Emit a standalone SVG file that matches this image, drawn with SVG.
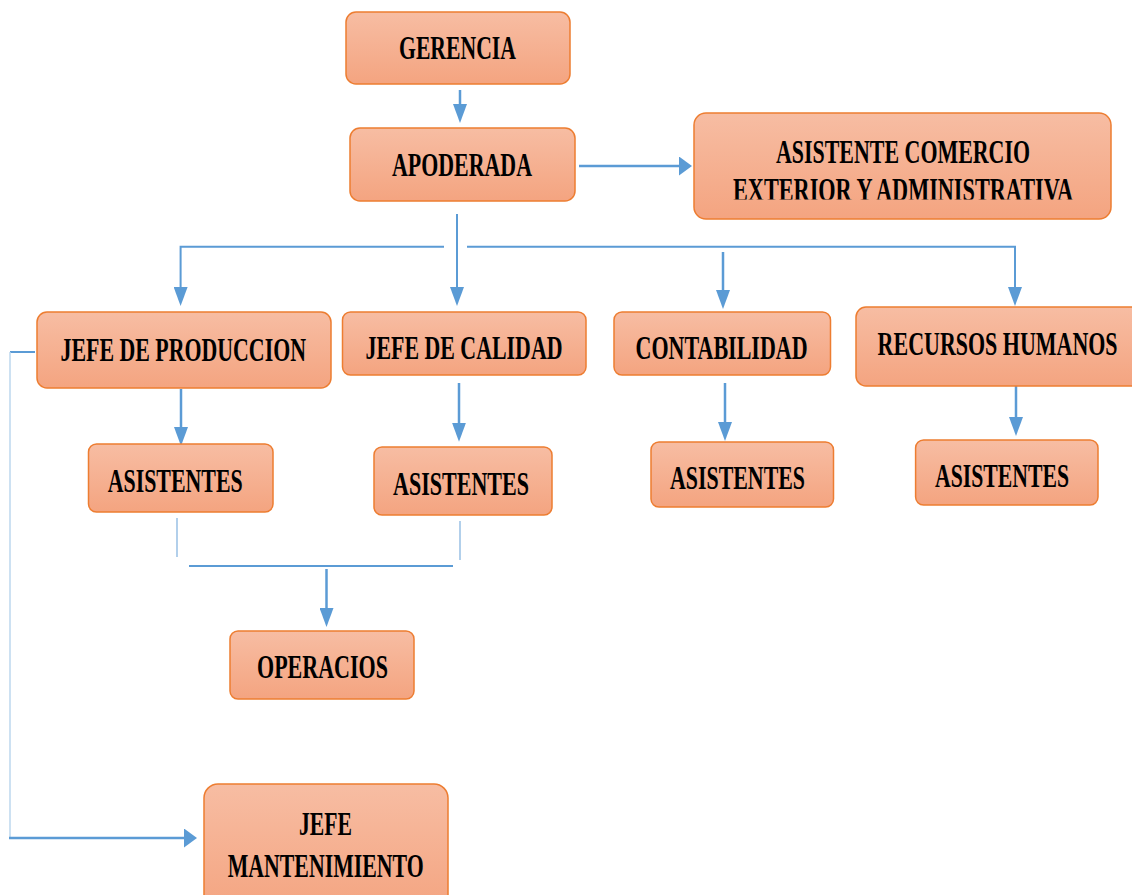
<svg xmlns="http://www.w3.org/2000/svg" width="1132" height="895" viewBox="0 0 1132 895">
<style>
.box{fill:url(#g);stroke:#ED7D31;stroke-width:1.5}
.t{font-family:"Liberation Serif","Times New Roman",serif;font-weight:bold;font-size:34px;fill:#000}
.c{fill:none;stroke:#5B9BD5;stroke-width:2.5}
.m{fill:none;stroke:#5B9BD5;stroke-width:2}
.th{fill:none;stroke:#7FB0DE;stroke-width:1.2}
.lt{fill:none;stroke:#BDD7EE;stroke-width:1.5}
</style>
<defs>
<linearGradient id="g" x1="0" y1="0" x2="0" y2="1">
<stop offset="0" stop-color="#F7BDA3"/>
<stop offset="1" stop-color="#F4A480"/>
</linearGradient>
<marker id="av" markerUnits="userSpaceOnUse" markerWidth="19" markerHeight="14" refX="9" refY="7" orient="auto" viewBox="0 0 19 14">
<path d="M0,0 L19,7 L0,14 z" fill="#5B9BD5"/>
</marker>
<marker id="ah" markerUnits="userSpaceOnUse" markerWidth="13" markerHeight="19" refX="4" refY="9.5" orient="auto" viewBox="0 0 13 19">
<path d="M0,0 L13,9.5 L0,19 z" fill="#5B9BD5"/>
</marker>
<clipPath id="clipA"><rect x="694" y="113" width="417" height="86.5"/></clipPath>
</defs>

<g id="connectors">
<path class="c" d="M460,90 V113" marker-end="url(#av)"/>
<path class="c" d="M579,166 H683" marker-end="url(#ah)"/>
<path class="m" d="M457,214 V296" marker-end="url(#av)"/>
<path class="m" d="M444,246.7 H180.6 V296" marker-end="url(#av)"/>
<path class="m" d="M467,246.7 H1015 V296" marker-end="url(#av)"/>
<path class="c" d="M723,252 V299" marker-end="url(#av)"/>
<path class="m" d="M35,352 H10"/>
<path class="lt" d="M10,352 V838"/>
<path class="c" d="M9,838 H188" marker-end="url(#ah)"/>
<path class="c" d="M181,389 V436" marker-end="url(#av)"/>
<path class="c" d="M459,383 V431.7" marker-end="url(#av)"/>
<path class="c" d="M725,383 V431" marker-end="url(#av)"/>
<path class="c" d="M1016,377 V426" marker-end="url(#av)"/>
<path class="th" d="M177,518 V557"/>
<path class="th" d="M460,521 V560"/>
<path class="m" d="M189,566 H453"/>
<path class="c" d="M326.5,569 V617" marker-end="url(#av)"/>
</g>

<g id="gerencia">
<rect class="box" x="346" y="12" width="224" height="72" rx="10"/>
<text class="t" x="399" y="59" textLength="117" lengthAdjust="spacingAndGlyphs">GERENCIA</text>
</g>
<g id="apoderada">
<rect class="box" x="350" y="128" width="225" height="73" rx="10"/>
<text class="t" x="392" y="176" textLength="140" lengthAdjust="spacingAndGlyphs">APODERADA</text>
</g>
<g id="asistente-comercio">
<rect class="box" x="694" y="113" width="417" height="106" rx="12"/>
<text class="t" x="776" y="163" textLength="254" lengthAdjust="spacingAndGlyphs">ASISTENTE COMERCIO</text>
<text class="t" x="733" y="201" textLength="340" lengthAdjust="spacingAndGlyphs" clip-path="url(#clipA)">EXTERIOR Y ADMINISTRATIVA</text>
</g>
<g id="jefe-produccion">
<rect class="box" x="37" y="312" width="294" height="76" rx="10"/>
<text class="t" x="60.5" y="361" textLength="245.5" lengthAdjust="spacingAndGlyphs">JEFE DE PRODUCCION</text>
</g>
<g id="jefe-calidad">
<rect class="box" x="342.5" y="312" width="243.5" height="63" rx="8"/>
<text class="t" x="365.5" y="359" textLength="197" lengthAdjust="spacingAndGlyphs">JEFE DE CALIDAD</text>
</g>
<g id="contabilidad">
<rect class="box" x="614" y="312" width="216.5" height="63" rx="8"/>
<text class="t" x="635.6" y="359" textLength="172" lengthAdjust="spacingAndGlyphs">CONTABILIDAD</text>
</g>
<g id="recursos-humanos">
<rect class="box" x="856" y="307" width="290" height="79" rx="10"/>
<text class="t" x="877.6" y="355" textLength="240" lengthAdjust="spacingAndGlyphs">RECURSOS HUMANOS</text>
</g>
<g id="asistentes-produccion">
<rect class="box" x="88.5" y="444" width="184.5" height="68" rx="8"/>
<text class="t" x="107.7" y="492" textLength="135" lengthAdjust="spacingAndGlyphs">ASISTENTES</text>
</g>
<g id="asistentes-calidad">
<rect class="box" x="374" y="447" width="178" height="68" rx="8"/>
<text class="t" x="393" y="495" textLength="136" lengthAdjust="spacingAndGlyphs">ASISTENTES</text>
</g>
<g id="asistentes-contabilidad">
<rect class="box" x="651" y="442" width="182.5" height="65" rx="8"/>
<text class="t" x="670" y="489" textLength="135" lengthAdjust="spacingAndGlyphs">ASISTENTES</text>
</g>
<g id="asistentes-rrhh">
<rect class="box" x="915.6" y="440" width="182.4" height="65" rx="8"/>
<text class="t" x="935" y="487" textLength="134" lengthAdjust="spacingAndGlyphs">ASISTENTES</text>
</g>
<g id="operacios">
<rect class="box" x="230" y="631" width="184" height="68" rx="8"/>
<text class="t" x="257" y="678" textLength="131" lengthAdjust="spacingAndGlyphs">OPERACIOS</text>
</g>
<g id="jefe-mantenimiento">
<rect class="box" x="204" y="784" width="244" height="130" rx="14"/>
<text class="t" x="299" y="835" textLength="53" lengthAdjust="spacingAndGlyphs">JEFE</text>
<text class="t" x="227.7" y="877" textLength="196" lengthAdjust="spacingAndGlyphs">MANTENIMIENTO</text>
</g>
</svg>
